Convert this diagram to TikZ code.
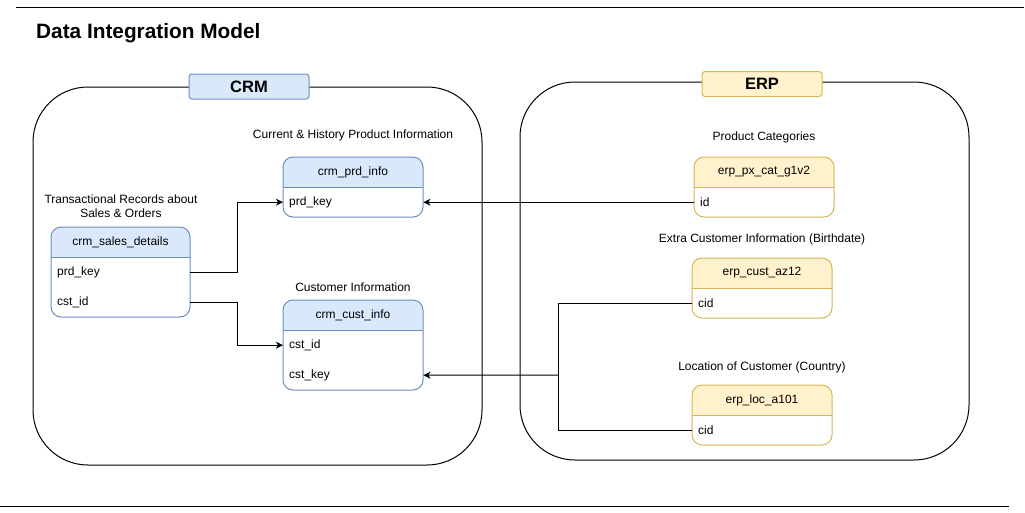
\documentclass[tikz,border=0pt]{standalone}
\usepackage{fontspec}
\setmainfont{Liberation Sans}
\usetikzlibrary{arrows.meta}
\definecolor{bluefill}{HTML}{DAE8FC}
\definecolor{bluestroke}{HTML}{6C8EBF}
\definecolor{yelfill}{HTML}{FFF2CC}
\definecolor{yelstroke}{HTML}{D6B656}
\newcommand\tabfont{\fontsize{12}{14}\selectfont}
% #1 name, #2 x1, #3 y1, #4 x2, #5 y2, #6 fill, #7 stroke, #8 title
\newcommand\dbtab[8]{%
  \fill[white,rounded corners=10pt] (#2,#3) rectangle (#4,#5);
  \fill[#6,rounded corners=10pt] (#2,#3) rectangle (#4,#3+30);
  \fill[#6] (#2,#3+15) rectangle (#4,#3+30);
  \draw[#7,line width=1pt] (#2,#3+30) -- (#4,#3+30);
  \draw[#7,line width=1pt,rounded corners=10pt] (#2,#3) rectangle (#4,#5);
  \node[font=\tabfont,inner sep=0pt] (#1) at ({(#2+#4)/2},#3+15) {#8};
}
\tikzset{
  rowtxt/.style={font=\tabfont,minimum height=30pt,text width=128pt,inner xsep=6pt,inner ysep=0pt,align=left,anchor=north west},
  caption/.style={font=\tabfont,inner sep=0pt,align=center},
  container/.style={draw=black,line width=1pt,rounded corners=55pt},
  grouplabel/.style={font=\fontsize{16.5}{18}\selectfont\bfseries,minimum width=120pt,minimum height=25pt,rounded corners=3pt,line width=1pt,inner sep=0pt},
  conn/.style={draw=black,line width=1pt},
  arrowconn/.style={conn,-{Stealth[length=7pt,width=7pt,inset=2pt]}},
  rule/.style={draw=black,line width=1pt}
}
\begin{document}
\begin{tikzpicture}[x=1pt,y=-1pt]
\useasboundingbox (0,0) rectangle (1025,512);
% rules
\coordinate (t1) at (16,7); \coordinate (t2) at (1024,7);
\coordinate (b1) at (0,506); \coordinate (b2) at (1009,506);
\draw[rule] (t1) -- (t2);
\draw[rule] (b1) -- (b2);
% title
\node[font=\fontsize{20.8}{24}\selectfont\bfseries,inner sep=0pt,anchor=base west] (title) at (36,38) {Data Integration Model};
% containers
\draw[container] (33,87) rectangle (482,465);
\draw[container] (520,82) rectangle (969,460);
\node[grouplabel,fill=bluefill,draw=bluestroke] (crm) at (249,86.5) {CRM};
\node[grouplabel,fill=yelfill,draw=yelstroke] (erp) at (762,84) {ERP};
% CRM tables
\node[caption] (capprd) at (353,135) {Current \& History Product Information};
\dbtab{prd}{283}{157}{423}{217}{bluefill}{bluestroke}{crm\_prd\_info}
\node[rowtxt] (prd-r1) at (283,187) {prd\_key};

\node[caption] (capsd) at (121,206) {Transactional Records about\\[-0.5pt]Sales \& Orders};
\dbtab{sd}{51}{227}{190}{317}{bluefill}{bluestroke}{crm\_sales\_details}
\node[rowtxt,text width=127pt] (sd-r1) at (51,257) {prd\_key};
\node[rowtxt,text width=127pt] (sd-r2) at (51,287) {cst\_id};

\node[caption] (capcust) at (353,287) {Customer Information};
\dbtab{cust}{283}{300}{423}{390}{bluefill}{bluestroke}{crm\_cust\_info}
\node[rowtxt] (cust-r1) at (283,330) {cst\_id};
\node[rowtxt] (cust-r2) at (283,360) {cst\_key};
% ERP tables
\node[caption] (cappx) at (764,137) {Product Categories};
\dbtab{px}{694}{157}{834}{217}{yelfill}{yelstroke}{erp\_px\_cat\_g1v2}
\node[rowtxt] (px-r1) at (694,187) {id};

\node[caption] (capaz) at (762,239) {Extra Customer Information (Birthdate)};
\dbtab{az}{692}{258}{832}{318}{yelfill}{yelstroke}{erp\_cust\_az12}
\node[rowtxt] (az-r1) at (692,288) {cid};

\node[caption] (caploc) at (762,367) {Location of Customer (Country)};
\dbtab{loc}{692}{385}{832}{445}{yelfill}{yelstroke}{erp\_loc\_a101}
\node[rowtxt] (loc-r1) at (692,415) {cid};
% connectors
\draw[arrowconn] (sd-r1.east) -- ++(47,0) |- (prd-r1.west);
\draw[arrowconn] (sd-r2.east) -- ++(47,0) |- (cust-r1.west);
\draw[arrowconn] (px-r1.west) -- (prd-r1.east);
\coordinate (j) at (558,375);
\draw[conn] (az-r1.west) -| (j);
\draw[conn] (loc-r1.west) -| (j);
\draw[arrowconn] (j) -- (cust-r2.east);
\end{tikzpicture}
\end{document}
